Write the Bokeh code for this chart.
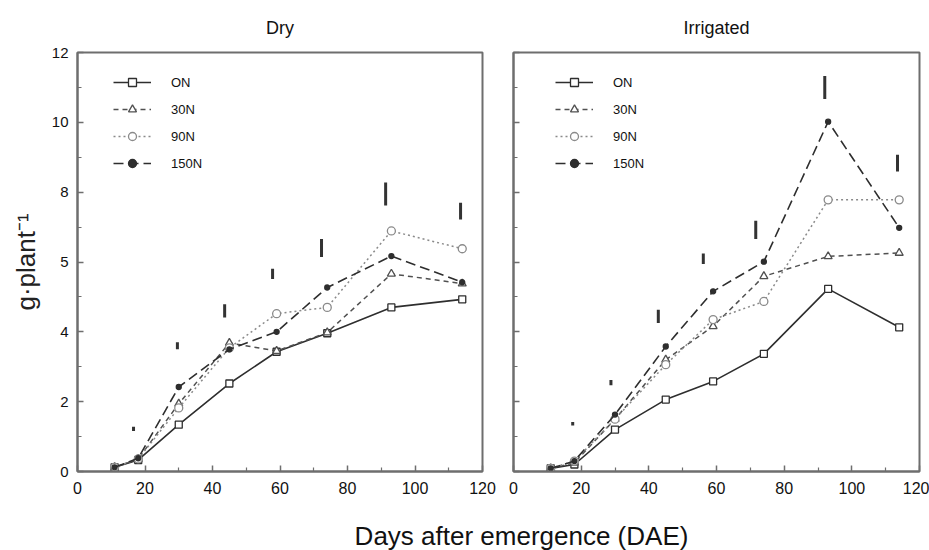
from bokeh.plotting import figure
from bokeh.layouts import column, row
from bokeh.models import (FixedTicker, Range1d, Legend, LegendItem, Label,
                          CustomJSTickFormatter, ColumnDataSource)
from bokeh.embed import file_html
from bokeh.resources import INLINE

# ---------------- data ----------------
dae = [11, 18, 30, 45, 59, 74, 93, 114]
series_names = ["ON", "30N", "90N", "150N"]

dry_0N = [0.12, 0.33, 1.34, 2.52, 3.43, 3.96, 4.70, 4.93]
dry_30N = [0.12, 0.36, 1.94, 3.68, 3.45, 3.98, 5.66, 5.38]
dry_90N = [0.12, 0.36, 1.82, 3.54, 4.52, 4.70, 6.89, 6.38]
dry_150N = [0.12, 0.38, 2.42, 3.50, 4.00, 5.27, 6.17, 5.42]

irr_0N = [0.09, 0.20, 1.20, 2.06, 2.58, 3.37, 5.23, 4.13]
irr_30N = [0.09, 0.25, 1.50, 3.20, 4.16, 5.59, 6.16, 6.26]
irr_90N = [0.09, 0.30, 1.50, 3.06, 4.35, 4.87, 7.78, 7.78]
irr_150N = [0.09, 0.30, 1.63, 3.58, 5.16, 6.01, 10.02, 6.98]

# LSD bars (x, bottom, top)
dry_bar_x = [16.6, 29.6, 43.6, 57.8, 72.3, 91.3, 113.5]
dry_bar_lo = [1.16, 3.50, 4.41, 5.51, 6.14, 7.62, 7.22]
dry_bar_hi = [1.28, 3.70, 4.79, 5.81, 6.66, 8.28, 7.70]

irr_bar_x = [17.5, 28.8, 42.8, 56.1, 71.6, 92.0, 113.5]
irr_bar_lo = [1.32, 2.47, 4.25, 5.94, 6.66, 10.67, 8.59]
irr_bar_hi = [1.42, 2.62, 4.63, 6.24, 7.18, 11.33, 9.07]

x_ticks = [0, 20, 40, 60, 80, 100, 120]
x_minor = [10, 30, 50, 70, 90, 110]
y_ticks = [0, 2, 4, 6, 8, 10, 12]
y_tick_labels = ["0", "2", "4", "5", "8", "10", "12"]
y_minor = [1, 3, 5, 7, 9, 11]

panel_titles = ["Dry", "Irrigated"]
y_title = "g\u00b7plant\u207b\u00b9"
x_title = "Days after emergence (DAE)"

# ---------------- styles ----------------
FONT = "Liberation Sans"
AX = "#6e6e6e"
styles = {
    "ON": dict(color="#2e2e2e", dash="solid", marker="square", fill="white", size=7, width=1.6),
    "30N": dict(color="#505050", dash="5 4", marker="triangle", fill="white", size=8, width=1.5),
    "90N": dict(color="#8a8a8a", dash="2 3", marker="circle", fill="white", size=8, width=1.5),
    "150N": dict(color="#2e2e2e", dash="10 5", marker="circle", fill="#2e2e2e", size=5, width=1.6),
}


def make_panel(title, data, bar_x, bar_lo, bar_hi, width, left, right, show_labels, legend_x):
    p = figure(width=width, height=510, output_backend="svg", toolbar_location=None,
               x_range=Range1d(0, 120), y_range=Range1d(0, 12),
               min_border_left=left, min_border_right=right,
               min_border_top=52, min_border_bottom=39)
    p.title.text = title
    p.title.align = "center"
    p.title.text_font = FONT
    p.title.text_font_size = "18px"
    p.title.text_font_style = "normal"
    p.title.text_color = "#111111"
    p.title.standoff = 30
    p.grid.visible = False
    p.outline_line_color = AX
    p.outline_line_width = 2
    p.background_fill_color = "white"
    p.border_fill_color = "white"

    for ax in p.axis:
        ax.axis_line_color = AX
        ax.axis_line_width = 2
        ax.major_tick_line_color = AX
        ax.minor_tick_line_color = AX
        ax.major_tick_line_width = 1.5
        ax.minor_tick_line_width = 1.2
        ax.major_tick_in = 6
        ax.major_tick_out = 0
        ax.minor_tick_in = 4
        ax.minor_tick_out = 0
        ax.major_label_text_font = FONT
        ax.major_label_text_color = "#111111"

    p.xaxis.ticker = FixedTicker(ticks=x_ticks, minor_ticks=x_minor)
    p.xaxis.major_label_text_font_size = "16px"
    p.xaxis.major_label_standoff = 10
    p.yaxis.ticker = FixedTicker(ticks=y_ticks, minor_ticks=y_minor)
    if show_labels:
        p.yaxis.major_label_overrides = {t: l for t, l in zip(y_ticks, y_tick_labels)}
        p.yaxis.major_label_text_font_size = "15px"
        p.yaxis.major_label_standoff = 9
        p.yaxis.axis_label = y_title
        p.yaxis.axis_label_text_font = FONT
        p.yaxis.axis_label_text_font_size = "26px"
        p.yaxis.axis_label_text_font_style = "normal"
        p.yaxis.axis_label_text_color = "#222222"
        p.yaxis.axis_label_standoff = 8
    else:
        p.yaxis.formatter = CustomJSTickFormatter(code="return ''")

    # LSD bars
    p.segment(x0=bar_x, y0=bar_lo, x1=bar_x, y1=bar_hi, line_color="#333333", line_width=3)

    items = []
    for name, ys in zip(series_names, data):
        s = styles[name]
        src = ColumnDataSource(dict(x=dae, y=ys))
        ln = p.line("x", "y", source=src, line_color=s["color"], line_width=s["width"],
                    line_dash=s["dash"])
        sc = p.scatter("x", "y", source=src, marker=s["marker"], size=s["size"],
                       line_color=s["color"], fill_color=s["fill"], line_width=1.3)
        items.append(LegendItem(label=name, renderers=[ln, sc]))

    leg = Legend(items=items, location=(legend_x, 298), padding=0, margin=0,
                 spacing=7, glyph_width=38, glyph_height=20, label_height=20,
                 label_standoff=20, label_text_font=FONT, label_text_font_size="13px",
                 label_text_color="#111111", border_line_color=None,
                 background_fill_alpha=0)
    p.add_layout(leg, "center")
    return p


p1 = make_panel(panel_titles[0], [dry_0N, dry_30N, dry_90N, dry_150N],
                dry_bar_x, dry_bar_lo, dry_bar_hi, 500, 77, 18, True, 36)
p2 = make_panel(panel_titles[1], [irr_0N, irr_30N, irr_90N, irr_150N],
                irr_bar_x, irr_bar_lo, irr_bar_hi, 429, 13, 10, False, 42)

p3 = figure(width=929, height=40, output_backend="svg", toolbar_location=None,
            x_range=Range1d(0, 929), y_range=Range1d(0, 40),
            x_axis_type=None, y_axis_type=None, title=None,
            min_border_left=0, min_border_right=0, min_border_top=0, min_border_bottom=0)
p3.grid.visible = False
p3.outline_line_color = None
p3.border_fill_color = "white"
p3.add_layout(Label(x=521, y=15, text=x_title, text_align="center",
                    text_baseline="middle", text_font=FONT,
                    text_font_size="26px", text_color="#111111"))

layout = column(row(p1, p2), p3)
open("out.html", "w").write(file_html(layout, INLINE))
